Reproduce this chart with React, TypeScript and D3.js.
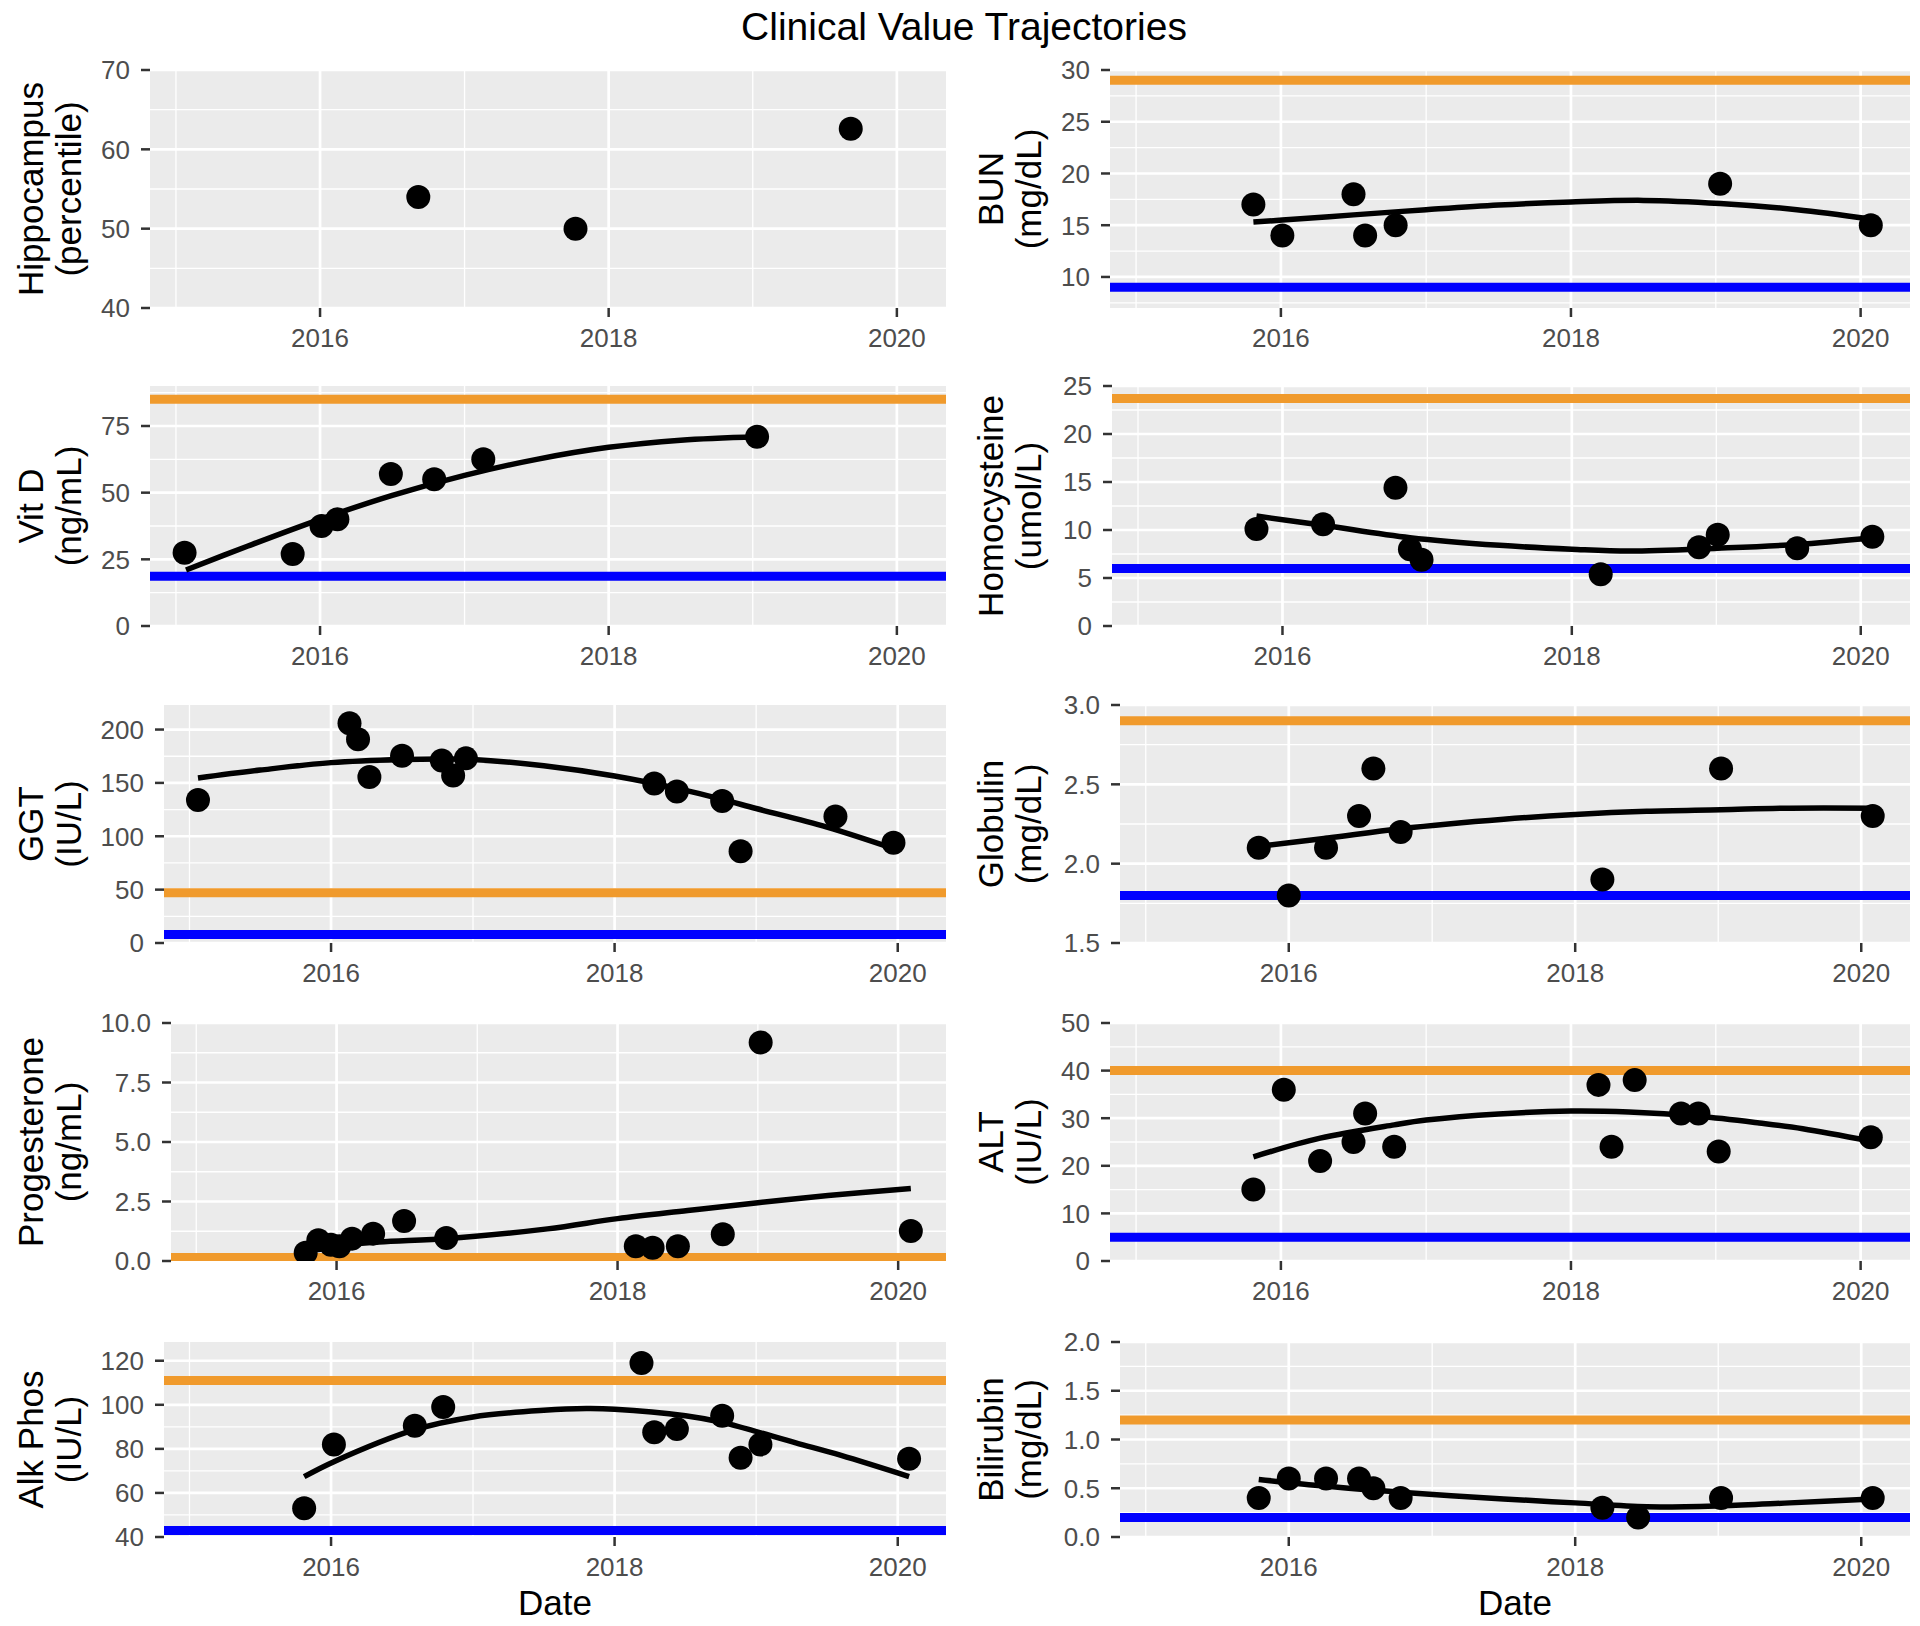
import React from "react";
import * as d3 from "d3";

// ---------- data (dates as decimal years) ----------
const xDomainYears = [2014.82, 2020.34];
const xMajorYears = [2016, 2018, 2020];
const xMinorYears = [2015, 2017, 2019];

const hippoDates = [2016.68, 2017.77, 2019.68];
const hippoValues = [54, 50, 62.6];

const bunDates = [2015.81, 2016.01, 2016.5, 2016.58, 2016.79, 2019.03, 2020.07];
const bunValues = [17, 14, 18, 14, 15, 19, 15];
const bunFitDates = [2015.81, 2016.01, 2016.5, 2017.0, 2017.5, 2018.0, 2018.5, 2019.03, 2019.56, 2020.07];
const bunFitValues = [15.3, 15.5, 16.0, 16.5, 16.95, 17.25, 17.4, 17.1, 16.5, 15.6];

const vitdDates = [2015.06, 2015.81, 2016.01, 2016.12, 2016.49, 2016.79, 2017.13, 2019.03];
const vitdValues = [27.5, 27, 37.5, 40, 57, 55, 62.5, 71];
const vitdFitDates = [2015.07, 2015.5, 2016.0, 2016.5, 2017.0, 2017.5, 2018.0, 2018.5, 2019.03];
const vitdFitValues = [21, 30, 40, 49, 56.5, 62.5, 67, 69.7, 71];

const homocDates = [2015.82, 2016.28, 2016.78, 2016.88, 2016.96, 2018.2, 2018.88, 2019.01, 2019.56, 2020.08];
const homocValues = [10.1, 10.6, 14.4, 8.0, 6.9, 5.4, 8.2, 9.5, 8.1, 9.3];
const homocFitDates = [2015.82, 2016.28, 2016.88, 2017.5, 2018.0, 2018.4, 2019.01, 2019.56, 2020.08];
const homocFitValues = [11.45, 10.5, 9.2, 8.4, 8.0, 7.8, 8.1, 8.5, 9.2];

const ggtDates = [2015.06, 2016.13, 2016.19, 2016.27, 2016.5, 2016.78, 2016.86, 2016.95, 2018.28, 2018.44, 2018.76, 2018.89, 2019.56, 2019.97];
const ggtValues = [134, 206, 191, 155.5, 175.5, 171, 157, 173, 149.5, 142, 133, 86, 118.5, 94];
const ggtFitDates = [2015.06, 2015.5, 2016.0, 2016.5, 2016.8, 2017.0, 2017.5, 2018.0, 2018.5, 2018.76, 2019.0, 2019.5, 2019.97];
const ggtFitValues = [154.6, 162, 169, 172, 172.5, 172, 166, 156.4, 143, 134.5, 126, 108.6, 88.5];

const globDates = [2015.79, 2016.0, 2016.26, 2016.49, 2016.59, 2016.78, 2018.19, 2019.02, 2020.08];
const globValues = [2.1, 1.8, 2.1, 2.3, 2.6, 2.2, 1.9, 2.6, 2.3];
const globFitDates = [2015.79, 2016.26, 2016.78, 2017.5, 2018.0, 2018.5, 2019.02, 2019.5, 2020.08];
const globFitValues = [2.11, 2.16, 2.22, 2.28, 2.31, 2.33, 2.34, 2.35, 2.35];

const progDates = [2015.78, 2015.87, 2015.96, 2016.02, 2016.11, 2016.26, 2016.48, 2016.78, 2018.13, 2018.25, 2018.43, 2018.75, 2019.02, 2020.09];
const progValues = [0.35, 0.87, 0.68, 0.62, 0.94, 1.15, 1.68, 0.97, 0.62, 0.56, 0.62, 1.12, 9.18, 1.26];
const progFitDates = [2015.75, 2015.9, 2016.0, 2016.3, 2016.8, 2017.5, 2018.0, 2018.5, 2019.0, 2019.5, 2020.09];
const progFitValues = [0.34, 0.55, 0.65, 0.8, 0.95, 1.35, 1.78, 2.12, 2.45, 2.75, 3.05];

const altDates = [2015.81, 2016.02, 2016.27, 2016.5, 2016.58, 2016.78, 2018.19, 2018.28, 2018.44, 2018.76, 2018.88, 2019.02, 2020.07];
const altValues = [15, 36, 21, 25, 31, 24, 37, 24, 38, 31, 31, 23, 26];
const altFitDates = [2015.81, 2016.27, 2016.78, 2017.0, 2017.5, 2018.0, 2018.4, 2018.88, 2019.3, 2019.6, 2020.07];
const altFitValues = [21.9, 25.8, 28.6, 29.6, 30.9, 31.5, 31.3, 30.4, 29.0, 27.8, 25.2];

const alkDates = [2015.81, 2016.02, 2016.59, 2016.79, 2018.19, 2018.28, 2018.44, 2018.76, 2018.89, 2019.03, 2020.08];
const alkValues = [53, 82, 90.5, 99, 119, 87.5, 89, 95, 76, 82, 75.5];
const alkFitDates = [2015.81, 2016.02, 2016.59, 2017.0, 2017.5, 2017.8, 2018.0, 2018.5, 2018.76, 2019.28, 2019.6, 2020.08];
const alkFitValues = [67.4, 74.2, 88.7, 94.5, 97.5, 98.3, 98, 95, 92, 82.7, 77, 67.4];

const biliDates = [2015.79, 2016.0, 2016.26, 2016.49, 2016.59, 2016.78, 2018.19, 2018.44, 2019.02, 2020.08];
const biliValues = [0.4, 0.6, 0.6, 0.6, 0.5, 0.4, 0.3, 0.2, 0.4, 0.4];
const biliFitDates = [2015.79, 2016.26, 2016.78, 2017.5, 2018.0, 2018.5, 2019.02, 2019.5, 2020.08];
const biliFitValues = [0.59, 0.52, 0.46, 0.39, 0.35, 0.31, 0.32, 0.35, 0.39];

// y ticks (tick labels)
const hippoTicks = [40, 50, 60, 70];
const bunTicks = [10, 15, 20, 25, 30];
const vitdTicks = [0, 25, 50, 75];
const homocTicks = [0, 5, 10, 15, 20, 25];
const ggtTicks = [0, 50, 100, 150, 200];
const globTicks = [1.5, 2.0, 2.5, 3.0];
const progTicks = [0, 2.5, 5, 7.5, 10];
const altTicks = [0, 10, 20, 30, 40, 50];
const alkTicks = [40, 60, 80, 100, 120];
const biliTicks = [0, 0.5, 1.0, 1.5, 2.0];

// ---------- layout ----------
const W = 1920;
const H = 1626;
const colX = [0, 960];
const colRight = [946, 1910];
const rowTop = [70, 386, 705, 1023, 1342];
const rowBottom = [308, 626, 943, 1261, 1537];
const FONT = "'Liberation Sans', Arial, Helvetica, sans-serif";
const ORANGE = "#F09A2C";
const BLUE = "#0000FF";

type Spec = {
  title: string;
  unit: string;
  col: number;
  row: number;
  left: number;
  yDomain: [number, number];
  ticks: number[];
  decimals: number;
  dates: number[];
  values: number[];
  fitDates?: number[];
  fitValues?: number[];
  hi?: number;
  lo?: number;
};

const specs: Spec[] = [
  { title: "Hippocampus", unit: "(percentile)", col: 0, row: 0, left: 150, yDomain: [40, 70], ticks: hippoTicks, decimals: 0, dates: hippoDates, values: hippoValues },
  { title: "BUN", unit: "(mg/dL)", col: 1, row: 0, left: 1110, yDomain: [7, 30], ticks: bunTicks, decimals: 0, dates: bunDates, values: bunValues, fitDates: bunFitDates, fitValues: bunFitValues, hi: 29, lo: 9 },
  { title: "Vit D", unit: "(ng/mL)", col: 0, row: 1, left: 150, yDomain: [0, 90], ticks: vitdTicks, decimals: 0, dates: vitdDates, values: vitdValues, fitDates: vitdFitDates, fitValues: vitdFitValues, hi: 85, lo: 18.7 },
  { title: "Homocysteine", unit: "(umol/L)", col: 1, row: 1, left: 1112, yDomain: [0, 25], ticks: homocTicks, decimals: 0, dates: homocDates, values: homocValues, fitDates: homocFitDates, fitValues: homocFitValues, hi: 23.7, lo: 6 },
  { title: "GGT", unit: "(IU/L)", col: 0, row: 2, left: 164, yDomain: [0, 223], ticks: ggtTicks, decimals: 0, dates: ggtDates, values: ggtValues, fitDates: ggtFitDates, fitValues: ggtFitValues, hi: 47, lo: 8 },
  { title: "Globulin", unit: "(mg/dL)", col: 1, row: 2, left: 1120, yDomain: [1.5, 3.0], ticks: globTicks, decimals: 1, dates: globDates, values: globValues, fitDates: globFitDates, fitValues: globFitValues, hi: 2.9, lo: 1.8 },
  { title: "Progesterone", unit: "(ng/mL)", col: 0, row: 3, left: 171, yDomain: [0, 10], ticks: progTicks, decimals: 1, dates: progDates, values: progValues, fitDates: progFitDates, fitValues: progFitValues, hi: 0.15 },
  { title: "ALT", unit: "(IU/L)", col: 1, row: 3, left: 1110, yDomain: [0, 50], ticks: altTicks, decimals: 0, dates: altDates, values: altValues, fitDates: altFitDates, fitValues: altFitValues, hi: 40, lo: 5 },
  { title: "Alk Phos", unit: "(IU/L)", col: 0, row: 4, left: 164, yDomain: [40, 128.5], ticks: alkTicks, decimals: 0, dates: alkDates, values: alkValues, fitDates: alkFitDates, fitValues: alkFitValues, hi: 111, lo: 43 },
  { title: "Bilirubin", unit: "(mg/dL)", col: 1, row: 4, left: 1120, yDomain: [0, 2.0], ticks: biliTicks, decimals: 1, dates: biliDates, values: biliValues, fitDates: biliFitDates, fitValues: biliFitValues, hi: 1.2, lo: 0.2 },
];

function toDate(y: number): Date {
  const yr = Math.floor(y);
  const start = new Date(yr, 0, 1).getTime();
  const end = new Date(yr + 1, 0, 1).getTime();
  return new Date(start + (y - yr) * (end - start));
}

function Panel({ s, idx }: { s: Spec; idx: number }) {
  const x0 = s.left;
  const x1 = colRight[s.col];
  const y0 = rowTop[s.row];
  const y1 = rowBottom[s.row];
  const x = d3.scaleTime().domain([toDate(xDomainYears[0]), toDate(xDomainYears[1])]).range([x0, x1]);
  const y = d3.scaleLinear().domain(s.yDomain).range([y1, y0]);
  const minorY: number[] = [];
  const step = s.ticks[1] - s.ticks[0];
  for (let i = -1; i < s.ticks.length; i++) {
    const v = s.ticks[0] + (i + 0.5) * step;
    if (v > s.yDomain[0] && v < s.yDomain[1]) minorY.push(v);
  }
  const fmt = d3.format(s.decimals ? ".1f" : "d");
  const xFmt = d3.timeFormat("%Y");
  const clipId = `clip${idx}`;
  const line = d3
    .line<number>()
    .x((_, i) => x(toDate(s.fitDates![i])))
    .y((v) => y(v))
    .curve(d3.curveCatmullRom.alpha(0.5));
  const cx = colX[s.col];
  const midY = (y0 + y1) / 2;
  return (
    <g>
      <defs>
        <clipPath id={clipId}>
          <rect x={x0} y={y0} width={x1 - x0} height={y1 - y0} />
        </clipPath>
      </defs>
      <rect x={x0} y={y0} width={x1 - x0} height={y1 - y0} fill="#EBEBEB" />
      <g clipPath={`url(#${clipId})`}>
        {minorY.map((v) => (
          <line key={"my" + v} x1={x0} x2={x1} y1={y(v)} y2={y(v)} stroke="#fff" strokeWidth={1.3} />
        ))}
        {xMinorYears.map((v) => (
          <line key={"mx" + v} x1={x(toDate(v))} x2={x(toDate(v))} y1={y0} y2={y1} stroke="#fff" strokeWidth={1.3} />
        ))}
        {s.ticks.map((v) => (
          <line key={"gy" + v} x1={x0} x2={x1} y1={y(v)} y2={y(v)} stroke="#fff" strokeWidth={2.7} />
        ))}
        {xMajorYears.map((v) => (
          <line key={"gx" + v} x1={x(toDate(v))} x2={x(toDate(v))} y1={y0} y2={y1} stroke="#fff" strokeWidth={2.7} />
        ))}
        {s.hi !== undefined && (
          <line x1={x0} x2={x1} y1={y(s.hi)} y2={y(s.hi)} stroke={ORANGE} strokeWidth={9} />
        )}
        {s.lo !== undefined && (
          <line x1={x0} x2={x1} y1={y(s.lo)} y2={y(s.lo)} stroke={BLUE} strokeWidth={9} />
        )}
        {s.dates.map((d, i) => (
          <circle key={"p" + i} cx={x(toDate(d))} cy={y(s.values[i])} r={12} fill="#000" />
        ))}
        {s.fitValues && (
          <path d={line(s.fitValues) || ""} fill="none" stroke="#000" strokeWidth={5.5} strokeLinecap="butt" />
        )}
      </g>
      {/* y axis */}
      {s.ticks.map((v) => (
        <g key={"yt" + v}>
          <line x1={x0 - 9} x2={x0} y1={y(v)} y2={y(v)} stroke="#333" strokeWidth={2.5} />
          <text x={x0 - 20} y={y(v)} dy="0.36em" textAnchor="end" fontSize={26} fill="#4D4D4D" fontFamily={FONT}>
            {fmt(v)}
          </text>
        </g>
      ))}
      {/* x axis */}
      {xMajorYears.map((v) => (
        <g key={"xt" + v}>
          <line x1={x(toDate(v))} x2={x(toDate(v))} y1={y1} y2={y1 + 9} stroke="#333" strokeWidth={2.5} />
          <text x={x(toDate(v))} y={y1 + 39} textAnchor="middle" fontSize={26} fill="#4D4D4D" fontFamily={FONT}>
            {xFmt(toDate(v))}
          </text>
        </g>
      ))}
      {/* y title */}
      <text transform={`translate(${cx + 43},${midY}) rotate(-90)`} textAnchor="middle" fontSize={35} fill="#000" fontFamily={FONT}>
        {s.title}
      </text>
      <text transform={`translate(${cx + 81},${midY}) rotate(-90)`} textAnchor="middle" fontSize={35} fill="#000" fontFamily={FONT}>
        {s.unit}
      </text>
      {s.row === 4 && (
        <text x={(x0 + x1) / 2} y={1615} textAnchor="middle" fontSize={35} fill="#000" fontFamily={FONT}>
          Date
        </text>
      )}
    </g>
  );
}

export default function App() {
  return (
    <svg width={W} height={H} viewBox={`0 0 ${W} ${H}`} style={{ position: "absolute", left: 0, top: 0, display: "block" }}>
      <rect x={0} y={0} width={W} height={H} fill="#fff" />
      <text x={964} y={40} textAnchor="middle" fontSize={39} fill="#000" fontFamily={FONT}>
        Clinical Value Trajectories
      </text>
      {specs.map((s, i) => (
        <Panel key={i} s={s} idx={i} />
      ))}
    </svg>
  );
}
